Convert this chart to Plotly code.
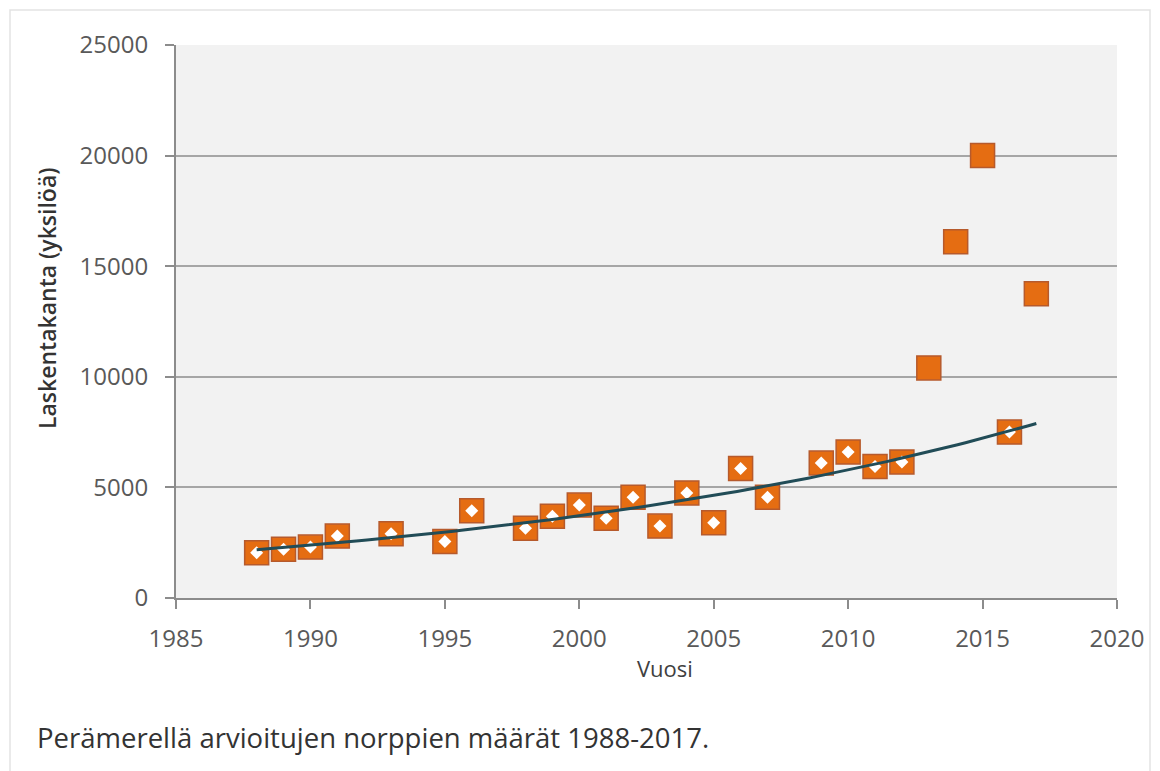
import numpy as np
import plotly.graph_objects as go

years = [1988, 1989, 1990, 1991, 1993, 1995, 1996, 1998, 1999, 2000, 2001, 2002,
         2003, 2004, 2005, 2006, 2007, 2009, 2010, 2011, 2012, 2013, 2014, 2015,
         2016, 2017]
counts = [2050, 2200, 2300, 2800, 2900, 2550, 3950, 3150, 3700, 4200, 3600, 4550,
          3250, 4750, 3400, 5850, 4550, 6100, 6600, 5950, 6150, 10400, 16100, 20000,
          7500, 13750]
# years included in the trend (shown with white diamond)
trend_years = [1988, 1989, 1990, 1991, 1993, 1995, 1996, 1998, 1999, 2000, 2001,
               2002, 2003, 2004, 2005, 2006, 2007, 2009, 2010, 2011, 2012, 2016]

x_ticks = [1985, 1990, 1995, 2000, 2005, 2010, 2015, 2020]
y_ticks = [0, 5000, 10000, 15000, 20000, 25000]
y_ticklabels = ["0", "5000", "10000", "15000", "20000", "25000"]

x_title = "Vuosi"
y_title = "Laskentakanta (yksilöä)"
caption = "Perämerellä arvioitujen norppien määrät 1988-2017."

lookup = dict(zip(years, counts))
trend_counts = [lookup[y] for y in trend_years]

# exponential trendline fitted to the trend subset
b, ln_a = np.polyfit(np.array(trend_years, float), np.log(trend_counts), 1)
tx = np.linspace(1988, 2017, 100)
ty = np.exp(ln_a + b * tx)

ORANGE = "#E56D12"
BORDER = "#B65A2C"
LINE = "#214C57"
TICKFONT = dict(family="Open Sans, sans-serif", size=24, color="#595959")

# page body adds ~8px offset; compensate in margins
OFF = 8
L, T, R, B = 176 - OFF, 45 - OFF, 43 + OFF, 173 + OFF
PW, PH = 941, 553

fig = go.Figure()
fig.add_trace(go.Scatter(
    x=years, y=counts, mode="markers",
    marker=dict(symbol="square", size=24, color=ORANGE,
                line=dict(color=BORDER, width=1.5)),
    showlegend=False, cliponaxis=False))
fig.add_trace(go.Scatter(
    x=trend_years, y=trend_counts, mode="markers",
    marker=dict(symbol="diamond", size=10, color="white",
                line=dict(width=0)),
    showlegend=False, cliponaxis=False))
fig.add_trace(go.Scatter(
    x=tx, y=ty, mode="lines", line=dict(color=LINE, width=3),
    showlegend=False))

fig.update_layout(
    width=1160, height=771,
    margin=dict(l=L, r=R, t=T, b=B),
    paper_bgcolor="white", plot_bgcolor="#F2F2F2",
    xaxis=dict(range=[1985, 2020], tickvals=x_ticks, showgrid=False,
               showline=True, linecolor="#8C8C8C", linewidth=2,
               ticks="outside", ticklen=9, tickcolor="#8C8C8C", tickwidth=1.5,
               tickfont=TICKFONT, zeroline=False, ticklabelstandoff=9),
    yaxis=dict(range=[0, 25000], tickvals=y_ticks, ticktext=y_ticklabels,
               showgrid=True, gridcolor="#A6A6A6", gridwidth=1.5,
               showline=True, linecolor="#8C8C8C", linewidth=2,
               ticks="outside", ticklen=9, tickcolor="#8C8C8C", tickwidth=1.5,
               tickfont=TICKFONT, zeroline=False, ticklabelstandoff=12),
    font=dict(family="Open Sans, sans-serif"),
)

fig.add_annotation(text=x_title, xref="paper", yref="paper",
                   x=(665 - 176) / PW, y=-(668 - 598) / PH,
                   xanchor="center", yanchor="middle", showarrow=False,
                   font=dict(family="Open Sans, sans-serif", size=22, color="#404040"))
fig.add_annotation(text=y_title, xref="paper", yref="paper",
                   x=-(176 - 47) / PW, y=(598 - 298) / PH, textangle=-90,
                   xanchor="center", yanchor="middle", showarrow=False,
                   font=dict(family="Open Sans, sans-serif", size=23, color="#333333",
                             weight=600))
fig.add_annotation(text=caption, xref="paper", yref="paper",
                   x=(35 - 176) / PW, y=-(737 - 598) / PH,
                   xanchor="left", yanchor="middle", showarrow=False,
                   font=dict(family="Open Sans, sans-serif", size=27.5, color="#333333"))
fig.add_shape(type="rect", xref="paper", yref="paper",
              x0=-(176 - 10) / PW, x1=(1150 - 176) / PW,
              y0=-(800 - 598) / PH, y1=1 + (45 - 10) / PH,
              line=dict(color="#E3E3E3", width=1.5), fillcolor="rgba(0,0,0,0)",
              layer="below")

fig.write_html("out.html")
